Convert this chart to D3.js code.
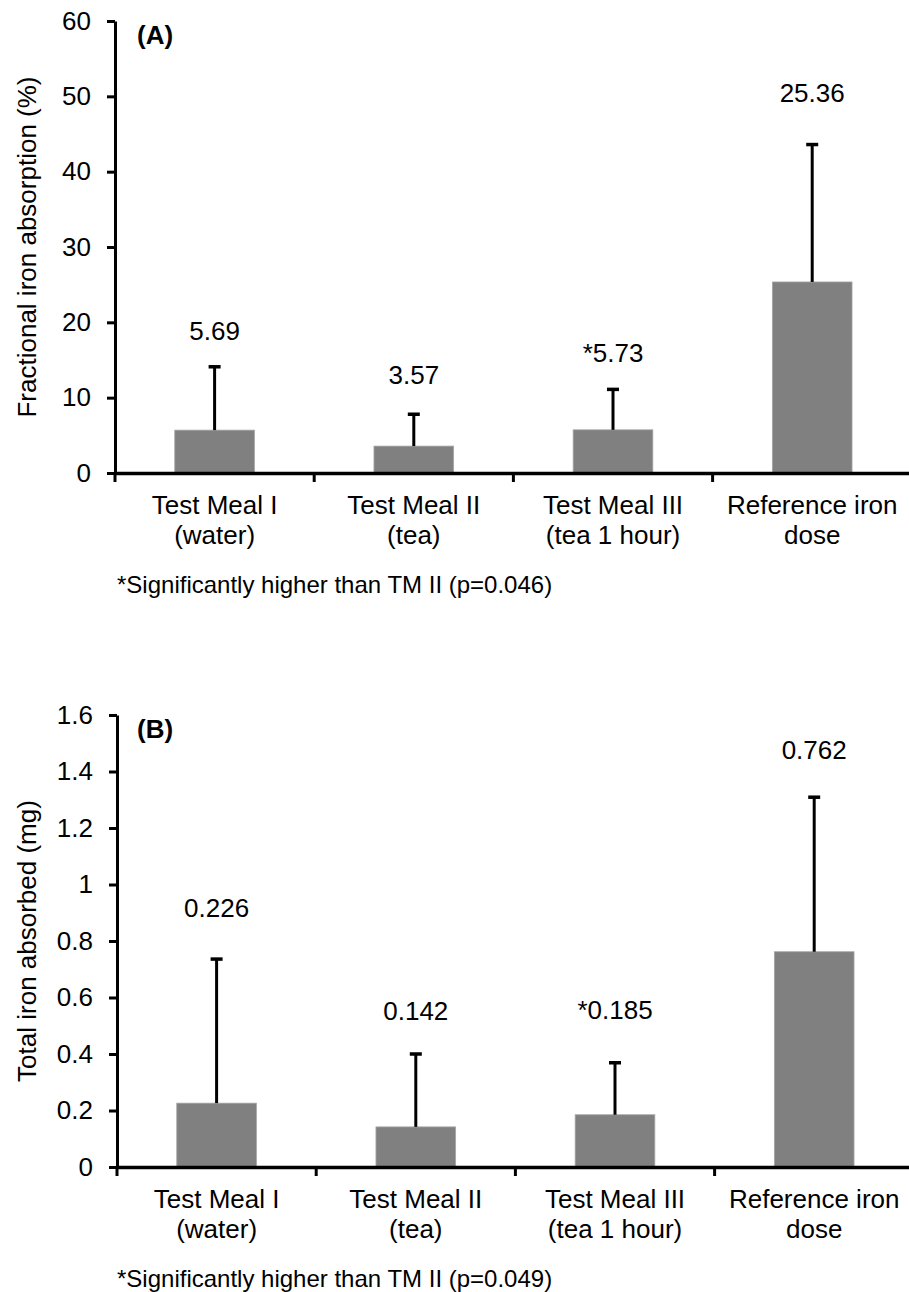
<!DOCTYPE html>
<html>
<head>
<meta charset="utf-8">
<script src="https://cdn.jsdelivr.net/npm/d3@7"></script>
<style>
  body { margin: 0; background: #fff; }
  svg text { font-family: "Liberation Sans", Arial, sans-serif; fill: #000; }
</style>
</head>
<body>
<div id="chart"></div>
<script>
// categories (two lines each)
const categories = [
  ['Test Meal I', '(water)'],
  ['Test Meal II', '(tea)'],
  ['Test Meal III', '(tea 1 hour)'],
  ['Reference iron', 'dose']
];

// panel A: fractional iron absorption (%)
const valuesA = [5.69, 3.57, 5.73, 25.36];
const errTopA = [14.1, 7.8, 11.1, 43.6];
const labelsA = ['5.69', '3.57', '*5.73', '25.36'];
const ticksA = [0, 10, 20, 30, 40, 50, 60];

// panel B: total iron absorbed (mg)
const valuesB = [0.226, 0.142, 0.185, 0.762];
const errTopB = [0.736, 0.40, 0.369, 1.309];
const labelsB = ['0.226', '0.142', '*0.185', '0.762'];
const ticksB = [0, 0.2, 0.4, 0.6, 0.8, 1, 1.2, 1.4, 1.6];

// where the value labels sit (baseline, in data units)
const labelAtA = [17.6, 11.8, 14.7, 49.2];
const labelAtB = [0.885, 0.52, 0.524, 1.443];

const W = 909, H = 1292;
const svg = d3.select('#chart').append('svg')
  .attr('width', W).attr('height', H);

function drawPanel(p) {
  const g = svg.append('g');

  const y = d3.scaleLinear().domain([0, p.ticks[p.ticks.length - 1]]).range([p.bottom, p.top]);
  const x = d3.scaleBand()
    .domain(d3.range(categories.length))
    .range([p.left, p.left + 4 * 199.2])
    .paddingInner(0.6)
    .paddingOuter(0.3);

  // bars
  g.selectAll('.bar')
    .data(p.values)
    .enter().append('rect')
    .attr('x', (d, i) => x(i))
    .attr('width', x.bandwidth())
    .attr('y', d => y(d))
    .attr('height', d => y(0) - y(d))
    .attr('fill', '#808080')
    .attr('stroke', '#a6a6a6')
    .attr('stroke-width', 0.8);

  // error bars (upper only)
  const cx = i => x(i) + x.bandwidth() / 2;
  g.selectAll('.err')
    .data(p.errTop)
    .enter().append('line')
    .attr('x1', (d, i) => cx(i)).attr('x2', (d, i) => cx(i))
    .attr('y1', (d, i) => y(p.values[i]))
    .attr('y2', d => y(d))
    .attr('stroke', '#000').attr('stroke-width', 3);
  g.selectAll('.cap')
    .data(p.errTop)
    .enter().append('line')
    .attr('x1', (d, i) => cx(i) - 6).attr('x2', (d, i) => cx(i) + 6)
    .attr('y1', d => y(d)).attr('y2', d => y(d))
    .attr('stroke', '#000').attr('stroke-width', 3.5);

  // value labels
  g.selectAll('.vlabel')
    .data(p.labels)
    .enter().append('text')
    .attr('x', (d, i) => cx(i))
    .attr('y', (d, i) => y(p.labelAt[i]))
    .attr('text-anchor', 'middle')
    .style('font-size', '26px')
    .text(d => d);

  // y axis
  const yAxis = g.append('g')
    .attr('transform', `translate(${p.left},0)`)
    .call(d3.axisLeft(y).tickValues(p.ticks).tickFormat(d3.format('~g'))
      .tickSize(8).tickSizeOuter(0).tickPadding(16));
  yAxis.select('.domain').attr('stroke-width', 3);
  yAxis.selectAll('.tick line').attr('stroke-width', 3);
  yAxis.selectAll('text').style('font-size', '26px')
    .style('font-family', '"Liberation Sans", Arial, sans-serif').attr('fill', '#000');

  // x axis (line + boundary ticks + two-line labels)
  const xAxis = g.append('g')
    .attr('transform', `translate(0,${p.bottom})`)
    .call(d3.axisBottom(x).tickSize(0).tickSizeOuter(0).tickFormat(''));
  xAxis.select('.domain').attr('stroke-width', 3.5);
  xAxis.selectAll('.bound')
    .data(d3.range(categories.length + 1))
    .enter().append('line')
    .attr('x1', i => x.range()[0] + i * x.step())
    .attr('x2', i => x.range()[0] + i * x.step())
    .attr('y1', 0).attr('y2', 9)
    .attr('stroke', '#000').attr('stroke-width', 3);

  const lab = g.selectAll('.xlabel')
    .data(categories)
    .enter().append('text')
    .attr('text-anchor', 'middle')
    .style('font-size', '26px');
  lab.each(function(lines, i) {
    d3.select(this).selectAll('tspan')
      .data(lines)
      .enter().append('tspan')
      .attr('x', cx(i))
      .attr('y', (d, k) => p.bottom + 41 + k * 30)
      .text(d => d);
  });

  // axis title
  g.append('text')
    .attr('transform', `translate(36,${(p.top + p.bottom) / 2}) rotate(-90)`)
    .attr('text-anchor', 'middle')
    .style('font-size', '26px')
    .text(p.title);

  // panel tag
  g.append('text')
    .attr('x', 137).attr('y', p.top + 23)
    .style('font-size', '26px').style('font-weight', 'bold')
    .text(p.tag);

  // footnote
  g.append('text')
    .attr('x', 117).attr('y', p.bottom + 120)
    .style('font-size', '24px')
    .text(p.note);
}

drawPanel({
  top: 21, bottom: 473, left: 115,
  values: valuesA, errTop: errTopA, labels: labelsA, labelAt: labelAtA, ticks: ticksA,
  title: 'Fractional iron absorption (%)', tag: '(A)',
  note: '*Significantly higher than TM II (p=0.046)'
});

drawPanel({
  top: 715, bottom: 1167, left: 117,
  values: valuesB, errTop: errTopB, labels: labelsB, labelAt: labelAtB, ticks: ticksB,
  title: 'Total iron absorbed (mg)', tag: '(B)',
  note: '*Significantly higher than TM II (p=0.049)'
});
</script>
</body>
</html>
